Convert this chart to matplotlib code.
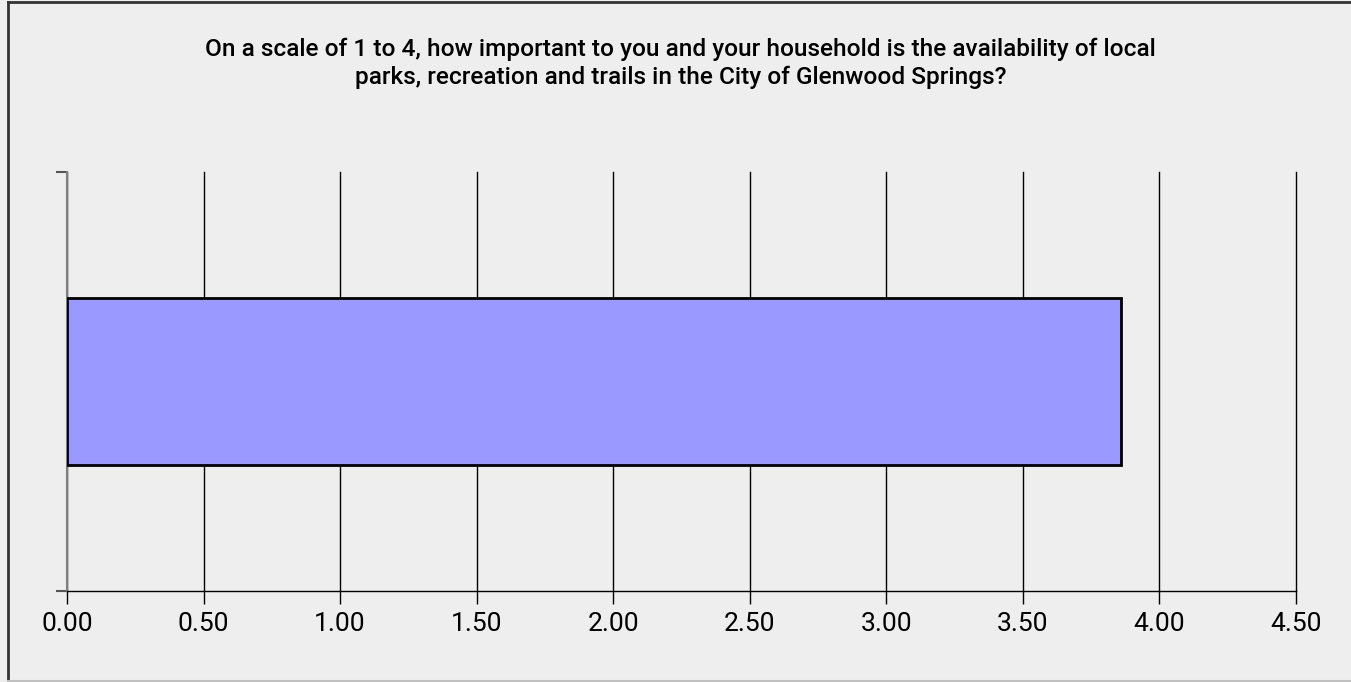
import numpy as np
import matplotlib.pyplot as plt
from matplotlib.lines import Line2D

title = ("On a scale of 1 to 4, how important to you and your household is the availability of local\n"
         "parks, recreation and trails in the City of Glenwood Springs?")
categories = [""]
values = [3.86]
x_ticks = [0.0, 0.5, 1.0, 1.5, 2.0, 2.5, 3.0, 3.5, 4.0, 4.5]

plt.rcParams['font.family'] = ['Roboto', 'DejaVu Sans']

bg = '#eeeeee'
fig = plt.figure(figsize=(13.51, 6.82), dpi=100, facecolor=bg)
ax = fig.add_axes([67 / 1351, 1 - 591 / 682, (1296 - 67) / 1351, (591 - 172) / 682])
ax.set_facecolor(bg)

ax.barh(np.arange(len(values)), values, height=0.4, color='#9999ff',
        edgecolor='black', linewidth=2, zorder=3)

ax.set_xlim(0, 4.5)
ax.set_ylim(-0.5, 0.5)
ax.set_xticks(x_ticks)
ax.set_xticklabels([f"{t:.2f}" for t in x_ticks], fontsize=19)
ax.set_yticks([-0.5, 0.5])
ax.set_yticklabels([])
ax.xaxis.grid(True, color='black', linewidth=1)
ax.set_axisbelow(True)
for gl in ax.get_xgridlines():
    gl.set_clip_on(False)

for s in ['top', 'right']:
    ax.spines[s].set_visible(False)
ax.spines['left'].set_color('#808080')
ax.spines['left'].set_linewidth(1.5)
ax.spines['bottom'].set_color('black')
ax.spines['bottom'].set_linewidth(1)
ax.tick_params(axis='x', length=9, width=1, color='black', pad=6)
ax.tick_params(axis='y', length=8, width=1.5, color='#555555')

fig.text(680.5 / 1351, 1 - 84 / 682, title, ha='center', va='baseline', fontsize=17.6,
         fontweight='medium', linespacing=1.25)

# figure border
fig.add_artist(Line2D([8 / 1351, 8 / 1351], [0, 1 - 2 / 682], color='#333333', linewidth=2))
fig.add_artist(Line2D([8 / 1351, 1], [1 - 2 / 682, 1 - 2 / 682], color='#333333', linewidth=2))
fig.add_artist(Line2D([8 / 1351, 1], [1 / 682, 1 / 682], color='#c0c0c0', linewidth=1.5))

fig.savefig('out.png', dpi=100, facecolor=bg)
